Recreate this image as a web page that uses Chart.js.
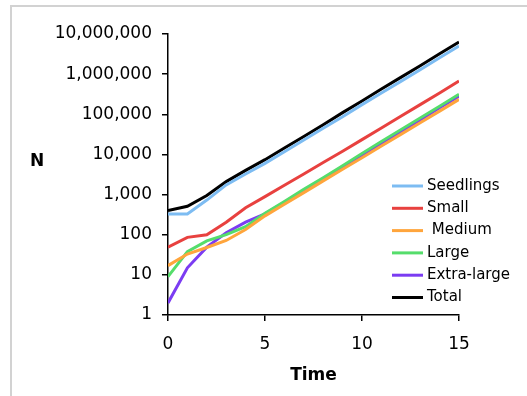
<!DOCTYPE html>
<html>
<head>
<meta charset="utf-8">
<script src="https://cdn.jsdelivr.net/npm/chart.js@4"></script>
<style>
  html, body { margin: 0; padding: 0; background: #fff; overflow: hidden; }
  #wrap { position: relative; width: 527px; height: 396px; }
  canvas { display: block; }
</style>
</head>
<body>
<div id="wrap"><canvas id="growthChart" width="527" height="396"></canvas></div>
<script>
// ── Data ────────────────────────────────────────────────────
const TIME = [0, 1, 2, 3, 4, 5, 6, 7, 8, 9, 10, 11, 12, 13, 14, 15];

const SEEDLINGS   = [330, 330, 730, 1740, 3250, 6000, 11700, 23000, 45000, 87000, 174000, 340000, 660000, 1290000, 2570000, 5000000];
const SMALL       = [49, 86, 100, 205, 470, 890, 1700, 3240, 6300, 12000, 23400, 45700, 89000, 174000, 340000, 675000];
const MEDIUM      = [17, 33, 48, 72, 135, 295, 575, 1120, 2190, 4260, 8300, 16200, 31600, 61700, 120000, 235000];
const LARGE       = [9, 38, 70, 100, 158, 340, 675, 1350, 2630, 5250, 10500, 21000, 41000, 81000, 158000, 315000];
const EXTRA_LARGE = [2, 15, 49, 112, 205, 330, 645, 1260, 2450, 4900, 9550, 19000, 37000, 72500, 145000, 280000];
const TOTAL       = [400, 510, 950, 2100, 4000, 7400, 14500, 28000, 55000, 110000, 214000, 425000, 830000, 1620000, 3230000, 6300000];

const SERIES_LABELS = ['Seedlings', 'Small', ' Medium', 'Large', 'Extra-large', 'Total'];
const SERIES_DATA   = [SEEDLINGS, SMALL, MEDIUM, LARGE, EXTRA_LARGE, TOTAL];
const SERIES_COLORS = ['#7dbcf2', '#e8413f', '#ffa53c', '#55dd6b', '#7b3cf2', '#000000'];

const Y_TICKS = [1, 10, 100, 1000, 10000, 100000, 1000000, 10000000];
const X_TICKS = [0, 5, 10, 15];

const FONT = 'DejaVu Sans, Verdana, sans-serif';

// ── Plugins: frame, upright "N" title, legend inside plot ───
const framePlugin = {
  id: 'frame',
  beforeDraw(chart) {
    const c = chart.ctx;
    c.save();
    c.strokeStyle = '#d2d2d2';
    c.lineWidth = 2;
    c.beginPath();
    c.moveTo(11, 396);
    c.lineTo(11, 6);
    c.lineTo(527, 6);
    c.stroke();
    c.restore();
  }
};

const titlePlugin = {
  id: 'uprightTitle',
  afterDraw(chart) {
    const c = chart.ctx;
    c.save();
    c.fillStyle = '#000';
    c.font = 'bold 17px ' + FONT;
    c.textAlign = 'center';
    c.textBaseline = 'middle';
    c.fillText('N', 37, 162);
    c.restore();
  }
};

const legendPlugin = {
  id: 'innerLegend',
  afterDraw(chart) {
    const c = chart.ctx;
    c.save();
    c.font = '15px ' + FONT;
    c.textBaseline = 'middle';
    c.textAlign = 'left';
    chart.data.datasets.forEach((ds, i) => {
      const y = 186 + i * 22.3;
      c.strokeStyle = ds.borderColor;
      c.lineWidth = 3;
      c.beginPath();
      c.moveTo(392, y);
      c.lineTo(423, y);
      c.stroke();
      c.fillStyle = '#000';
      c.fillText(ds.label, 427, y);
    });
    c.restore();
  }
};

// ── Chart ───────────────────────────────────────────────────
const ctx = document.getElementById('growthChart').getContext('2d');

new Chart(ctx, {
  type: 'line',
  data: {
    datasets: SERIES_LABELS.map((label, i) => ({
      label,
      data: TIME.map((t, j) => ({ x: t, y: SERIES_DATA[i][j] })),
      borderColor: SERIES_COLORS[i],
      backgroundColor: SERIES_COLORS[i],
      borderWidth: 3,
      pointRadius: 0,
      tension: 0,
      fill: false
    }))
  },
  options: {
    responsive: false,
    animation: false,
    devicePixelRatio: 1,
    layout: { padding: { left: 0, top: 34, right: 68, bottom: 0 } },
    plugins: {
      legend: { display: false },
      tooltip: { enabled: false }
    },
    scales: {
      x: {
        type: 'linear',
        min: 0,
        max: 15,
        afterBuildTicks: s => { s.ticks = X_TICKS.map(v => ({ value: v })); },
        afterFit: s => { s.height = 81; },
        border: { display: true, color: '#000', width: 1.5 },
        grid: { display: true, drawOnChartArea: false, drawTicks: true, tickLength: 6, color: '#000', lineWidth: 1.5 },
        ticks: { color: '#000', font: { family: FONT, size: 17 }, padding: 13, maxRotation: 0 },
        title: {
          display: true,
          text: 'Time',
          color: '#000',
          font: { family: FONT, size: 17, weight: 'bold' },
          padding: { top: 4, bottom: 10 }
        }
      },
      y: {
        type: 'logarithmic',
        min: 1,
        max: 10000000,
        afterBuildTicks: s => { s.ticks = Y_TICKS.map(v => ({ value: v })); },
        afterFit: s => { s.width = 168; },
        border: { display: true, color: '#000', width: 1.5 },
        grid: { display: true, drawOnChartArea: false, drawTicks: true, tickLength: 6, color: '#000', lineWidth: 1.5 },
        ticks: {
          color: '#000',
          font: { family: FONT, size: 17 },
          padding: 10,
          callback: v => Number(v).toLocaleString('en-US')
        }
      }
    }
  },
  plugins: [framePlugin, titlePlugin, legendPlugin]
});
</script>
</body>
</html>
